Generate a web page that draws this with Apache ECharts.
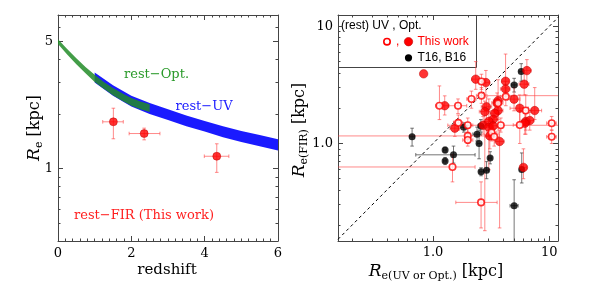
<!DOCTYPE html>
<html><head><meta charset="utf-8">
<script src="https://cdn.jsdelivr.net/npm/echarts@6/dist/echarts.min.js"></script>
<style>html,body{margin:0;padding:0;background:#fff}#c{width:598px;height:288px}</style>
</head><body><div id="c"></div>
<script>
// ---------- LEFT PANEL DATA ----------
const optZ  = [0, 0.25, 0.5, 0.75, 1, 1.25, 1.5, 1.75, 2, 2.25, 2.5];
const optHi = [5.15, 4.55, 4.05, 3.62, 3.28, 3.00, 2.78, 2.60, 2.45, 2.34, 2.26];
const optLo = [4.85, 4.25, 3.75, 3.35, 3.00, 2.75, 2.53, 2.36, 2.22, 2.12, 2.05];
const uvZ   = [1, 1.5, 2, 2.5, 3, 3.5, 4, 4.5, 5, 5.5, 6];
const uvHi  = [3.38, 2.88, 2.52, 2.30, 2.12, 1.96, 1.83, 1.71, 1.61, 1.53, 1.45];
const uvLo  = [2.98, 2.52, 2.20, 2.00, 1.85, 1.71, 1.60, 1.49, 1.40, 1.33, 1.26];
const firZ    = [1.51, 2.35, 4.33];
const firRe   = [1.81, 1.56, 1.17];
const firZLo  = [1.22, 1.94, 3.99];
const firZHi  = [1.78, 2.78, 4.66];
const firReLo = [1.46, 1.44, 0.954];
const firReHi = [2.15, 1.67, 1.37];
const leftXTicks = [0, 2, 4, 6];
const leftYLabels = [1, 5];
const leftYMinor = [0.4, 0.5, 0.6, 0.7, 0.8, 0.9, 2, 3, 4, 6, 7];

// ---------- RIGHT PANEL DATA ----------
// This work, filled symbols
const wfX   = [0.83, 2.33, 2.85, 1.26, 4.21, 4.21, 6.42, 6.09, 4.98, 3.63, 3.56, 2.88, 5.58, 7.5, 2.79, 3.63, 3.40, 3.29, 6.28, 6.8, 6.17, 1.54, 2.70, 3.02, 3.02, 3.29, 3.08, 3.74, 6.0];
const wfY   = [3.93, 3.54, 3.31, 2.10, 3.40, 2.92, 4.19, 3.21, 2.39, 2.32, 2.22, 2.06, 2.00, 1.91, 1.87, 1.91, 1.81, 1.61, 1.54, 1.57, 1.49, 1.35, 1.43, 1.54, 1.375, 1.41, 1.16, 1.04, 0.625];
const wfXLo = [0.83, 2.15, 2.65, 1.15, 3.9, 3.8, 5.8, 5.5, 4.4, 3.3, 3.2, 2.6, 4.6, 6.5, 2.5, 3.3, 3.1, 3.0, 5.7, 6.2, 5.5, 1.4, 2.45, 2.75, 2.75, 3.0, 2.8, 3.4, 5.6];
const wfXHi = [0.83, 2.52, 3.05, 1.37, 4.5, 4.6, 7.0, 6.7, 5.6, 4.0, 3.9, 3.2, 6.6, 8.6, 3.1, 4.0, 3.7, 3.6, 6.9, 7.4, 6.8, 1.7, 2.95, 3.3, 3.3, 3.6, 3.4, 4.1, 6.4];
const wfYLo = [3.93, 2.9, 2.6, 1.75, 2.8, 2.5, 3.2, 2.6, 1.9, 1.2, 1.8, 1.6, 1.5, 1.6, 0.18, 1.6, 1.5, 1.3, 1.3, 1.3, 1.2, 1.15, 1.2, 0.6, 1.15, 1.2, 0.9, 0.19, 0.5];
const wfYHi = [3.93, 5.0, 4.2, 2.55, 5.8, 3.4, 5.2, 4.0, 3.0, 3.5, 2.7, 2.5, 2.6, 3.0, 2.3, 2.2, 2.1, 1.9, 1.8, 1.85, 1.8, 1.55, 1.7, 2.4, 1.6, 1.65, 1.4, 1.3, 0.9];
// This work, open symbols
const woX   = [2.61, 2.61, 2.14, 4.23, 1.135, 1.64, 6.28, 3.63, 1.65, 10.5, 5.58, 1.99, 3.83, 3.19, 3.36, 1.99, 1.99, 10.5, 1.47, 2.59];
const woY   = [3.38, 2.56, 2.40, 2.51, 2.10, 2.10, 1.91, 2.20, 1.50, 1.49, 1.44, 1.43, 1.43, 1.24, 1.14, 1.16, 1.07, 1.14, 0.63, 0.314];
const woXLo = [2.45, 2.36, 1.95, 3.8, 1.05, 1.35, 5.6, 3.3, 1.5, 9.5, 4.9, 1.8, 1.34, 2.9, 3.05, 0.1, 1.8, 9.5, 0.1, 1.57];
const woXHi = [2.8, 14, 2.35, 4.7, 1.22, 1.95, 7.0, 4.0, 1.8, 11.5, 6.3, 2.2, 14, 3.5, 3.7, 2.9, 2.2, 11.5, 2.3, 3.56];
const woYLo = [2.9, 2.2, 2.0, 2.1, 1.6, 1.8, 1.2, 1.9, 1.3, 1.3, 1.0, 1.25, 1.25, 1.05, 0.95, 1.0, 0.95, 1.0, 0.47, 0.19];
const woYHi = [3.9, 3.0, 2.8, 3.0, 3.1, 2.4, 2.6, 2.5, 1.75, 1.7, 1.9, 1.65, 1.65, 1.45, 1.35, 1.35, 1.2, 1.3, 0.8, 0.47];
// T16, B16
const tbX   = [0.66, 1.27, 1.27, 1.50, 1.84, 2.39, 2.49, 2.58, 2.59, 2.89, 3.10, 4.99, 4.99, 5.74, 5.80];
const tbY   = [1.14, 0.88, 0.71, 0.80, 1.375, 1.20, 1.00, 1.41, 0.574, 0.59, 0.75, 3.16, 0.294, 4.11, 0.60];
const tbXLo = [0.63, 1.23, 1.23, 0.71, 1.72, 2.2, 2.4, 2.45, 2.5, 2.8, 3.0, 4.7, 4.6, 5.5, 5.6];
const tbXHi = [0.69, 1.31, 1.31, 2.30, 1.96, 2.6, 2.6, 2.72, 2.7, 3.0, 3.2, 5.3, 5.4, 6.0, 6.0];
const tbYLo = [0.95, 0.83, 0.66, 0.68, 1.25, 1.05, 0.74, 1.25, 0.53, 0.5, 0.67, 2.75, 0.1, 3.4, 0.46];
const tbYHi = [1.35, 0.93, 0.76, 0.95, 1.5, 1.38, 1.3, 1.6, 0.62, 0.7, 0.85, 3.6, 0.49, 4.8, 0.83];
const oneToOne = [0.1, 20];
const logLabels = [1, 10];
const logMinor = [0.2, 0.3, 0.4, 0.5, 0.6, 0.7, 0.8, 0.9, 2, 3, 4, 5, 6, 7, 8, 9];

// ---------- BUILD ----------
const SERIF = 'DejaVu Serif';
const SANS = 'Liberation Sans';
const FRAME = '#444';
const chart = echarts.init(document.getElementById('c'), null, {renderer: 'canvas'});

function zip(...arrs) { return arrs[0].map((_, i) => arrs.map(a => a[i])); }

function logAxis(kind, grid, pos, min, max, vals, major, labels, fmt) {
  return {
    type: 'log', logBase: 10, gridIndex: grid, position: pos, min: min, max: max,
    axisLine: {show: major, onZero: false, lineStyle: {color: FRAME, width: 1}},
    axisTick: {show: true, inside: true, length: major ? 5 : 2.5, customValues: vals, lineStyle: {color: FRAME}},
    axisLabel: labels ? {show: true, customValues: labels, formatter: fmt, fontFamily: SERIF, fontSize: 13, color: '#000', margin: 5} : {show: false},
    splitLine: {show: false}, minorTick: {show: false}
  };
}
function linAxis(grid, pos, labels) {
  return {
    type: 'value', gridIndex: grid, position: pos, min: 0, max: 6, interval: 2,
    axisLine: {show: true, onZero: false, lineStyle: {color: FRAME, width: 1}},
    axisTick: {show: true, inside: true, length: 5, lineStyle: {color: FRAME}},
    minorTick: {show: true, splitNumber: 10, length: 2.5, lineStyle: {color: FRAME}},
    axisLabel: labels ? {show: true, fontFamily: SERIF, fontSize: 13, color: '#000', margin: 6} : {show: false},
    splitLine: {show: false}
  };
}
const fmtL = v => String(Math.round(v));
const fmtR = v => { const r = Math.round(v); return r === 1 ? '1.0' : String(r); };
const RX = [0.152, 11.9], RY = [0.147, 12.5], LY = [0.4, 7];

const xAxis = [
  linAxis(0, 'bottom', true),
  linAxis(0, 'top', false),
  logAxis('x', 1, 'bottom', RX[0], RX[1], logLabels, true, logLabels, fmtR),
  logAxis('x', 1, 'bottom', RX[0], RX[1], logMinor, false, null),
  logAxis('x', 1, 'top', RX[0], RX[1], logLabels, true, null),
  logAxis('x', 1, 'top', RX[0], RX[1], logMinor, false, null)
];
const yAxis = [
  logAxis('y', 0, 'left', LY[0], LY[1], leftYLabels, true, leftYLabels, fmtL),
  logAxis('y', 0, 'left', LY[0], LY[1], leftYMinor, false, null),
  logAxis('y', 0, 'right', LY[0], LY[1], leftYLabels, true, null),
  logAxis('y', 0, 'right', LY[0], LY[1], leftYMinor, false, null),
  logAxis('y', 1, 'left', RY[0], RY[1], logLabels, true, logLabels, fmtR),
  logAxis('y', 1, 'left', RY[0], RY[1], logMinor, false, null),
  logAxis('y', 1, 'right', RY[0], RY[1], logLabels, true, null),
  logAxis('y', 1, 'right', RY[0], RY[1], logMinor, false, null)
];

function band(xs, lo, hi, color, z) {
  return {
    type: 'custom', xAxisIndex: 0, yAxisIndex: 0, z: z, silent: true,
    data: [[xs[0], lo[0]]],
    renderItem(params, api) {
      const pts = [];
      for (let i = 0; i < xs.length; i++) pts.push(api.coord([xs[i], hi[i]]));
      for (let i = xs.length - 1; i >= 0; i--) pts.push(api.coord([xs[i], lo[i]]));
      return {type: 'polygon', shape: {points: pts}, style: {fill: color, stroke: null}};
    }
  };
}

function errBars(data, xi, yi, color, z) {
  return {
    type: 'custom', xAxisIndex: xi, yAxisIndex: yi, z: z, silent: true,
    data: data,
    renderItem(params, api) {
      const cs = params.coordSys;
      const x0 = cs.x, x1 = cs.x + cs.width, y0 = cs.y, y1 = cs.y + cs.height;
      const x = api.value(0), y = api.value(1);
      const l = api.coord([api.value(2), y]), r = api.coord([api.value(3), y]);
      const b = api.coord([x, api.value(4)]), t = api.coord([x, api.value(5)]);
      const cl = v => Math.max(x0, Math.min(x1, v));
      const ct = v => Math.max(y0, Math.min(y1, v));
      const st = {stroke: color, lineWidth: 1};
      const ch = [];
      const cap = 1.8;
      if (r[0] - l[0] > 0.5) {
        const lx = cl(l[0]), rx = cl(r[0]);
        ch.push({type: 'line', shape: {x1: lx, y1: l[1], x2: rx, y2: r[1]}, style: st});
        if (lx === l[0]) ch.push({type: 'line', shape: {x1: lx, y1: l[1] - cap, x2: lx, y2: l[1] + cap}, style: st});
        if (rx === r[0]) ch.push({type: 'line', shape: {x1: rx, y1: r[1] - cap, x2: rx, y2: r[1] + cap}, style: st});
      }
      if (b[1] - t[1] > 0.5) {
        const by = ct(b[1]), ty = ct(t[1]);
        ch.push({type: 'line', shape: {x1: b[0], y1: by, x2: t[0], y2: ty}, style: st});
        if (by === b[1]) ch.push({type: 'line', shape: {x1: b[0] - cap, y1: by, x2: b[0] + cap, y2: by}, style: st});
        if (ty === t[1]) ch.push({type: 'line', shape: {x1: t[0] - cap, y1: ty, x2: t[0] + cap, y2: ty}, style: st});
      }
      return {type: 'group', children: ch};
    }
  };
}

const series = [
  band(uvZ, uvLo, uvHi, '#1a1aff', 2),
  band(optZ, optLo, optHi, 'rgba(34,140,40,0.85)', 3),
  errBars(zip(firZ, firRe, firZLo, firZHi, firReLo, firReHi), 0, 0, 'rgba(255,60,60,0.6)', 4),
  {type: 'scatter', xAxisIndex: 0, yAxisIndex: 0, z: 5, symbol: 'circle', symbolSize: 8,
   itemStyle: {color: '#f00', borderColor: '#b00', borderWidth: 0.6}, data: zip(firZ, firRe)},
  {type: 'line', xAxisIndex: 2, yAxisIndex: 4, z: 2, symbol: 'none', silent: true,
   lineStyle: {color: '#000', width: 1, type: [3, 3]}, data: zip(oneToOne, oneToOne)},
  errBars(zip(tbX, tbY, tbXLo, tbXHi, tbYLo, tbYHi), 2, 4, 'rgba(60,60,60,0.7)', 3),
  errBars(zip(wfX, wfY, wfXLo, wfXHi, wfYLo, wfYHi), 2, 4, 'rgba(255,60,60,0.6)', 3),
  errBars(zip(woX, woY, woXLo, woXHi, woYLo, woYHi), 2, 4, 'rgba(255,60,60,0.6)', 3),
  {type: 'scatter', xAxisIndex: 2, yAxisIndex: 4, z: 5, symbol: 'circle', symbolSize: 7,
   itemStyle: {color: '#000'}, data: zip(tbX, tbY)},
  {type: 'scatter', xAxisIndex: 2, yAxisIndex: 4, z: 6, symbol: 'circle', symbolSize: 8.5,
   itemStyle: {color: '#f00', borderColor: '#b00', borderWidth: 0.6}, data: zip(wfX, wfY)},
  {type: 'scatter', xAxisIndex: 2, yAxisIndex: 4, z: 6, symbol: 'circle', symbolSize: 6.5,
   itemStyle: {color: '#fff', borderColor: '#f00', borderWidth: 1.6}, data: zip(woX, woY)}
];

const titleRich = {
  i: {fontFamily: SERIF, fontStyle: 'italic', fontSize: 17, lineHeight: 20, verticalAlign: 'middle'},
  s: {fontFamily: SERIF, fontSize: 11, lineHeight: 20, verticalAlign: 'bottom'},
  n: {fontFamily: SERIF, fontSize: 16, lineHeight: 20, verticalAlign: 'middle'}
};
const graphic = [
  {type: 'text', x: 167, y: 270, style: {text: 'redshift', fontFamily: SERIF, fontSize: 15, fill: '#000', align: 'center', verticalAlign: 'middle'}},
  {type: 'text', x: 35, y: 128, rotation: Math.PI / 2, style: {text: '{i|R}{s|e}{n| [kpc]}', rich: titleRich, fill: '#000', align: 'center', verticalAlign: 'middle'}},
  {type: 'text', x: 300, y: 130, rotation: Math.PI / 2, style: {text: '{i|R}{s|e(FIR)}{n| [kpc]}', rich: titleRich, fill: '#000', align: 'center', verticalAlign: 'middle'}},
  {type: 'text', x: 436, y: 272, style: {text: '{i|R}{s|e(UV or Opt.)}{n| [kpc]}', rich: titleRich, fill: '#000', align: 'center', verticalAlign: 'middle'}},
  {type: 'text', x: 156.5, y: 75, style: {text: 'rest\u2212Opt.', fontFamily: SERIF, fontSize: 13, fill: '#2a9a2a', align: 'center', verticalAlign: 'middle'}},
  {type: 'text', x: 204, y: 107, style: {text: 'rest\u2212UV', fontFamily: SERIF, fontSize: 13, fill: '#2020ff', align: 'center', verticalAlign: 'middle'}},
  {type: 'text', x: 144, y: 216, style: {text: 'rest\u2212FIR (This work)', fontFamily: SERIF, fontSize: 13, fill: '#ff2020', align: 'center', verticalAlign: 'middle'}},
  // legend box
  {type: 'line', shape: {x1: 476.5, y1: 15, x2: 476.5, y2: 67.5}, style: {stroke: FRAME, lineWidth: 1}},
  {type: 'line', shape: {x1: 338, y1: 67.5, x2: 476.5, y2: 67.5}, style: {stroke: FRAME, lineWidth: 1}},
  {type: 'text', x: 341, y: 26, style: {text: '(rest) UV , Opt.', fontFamily: SANS, fontSize: 12, fill: '#000', align: 'left', verticalAlign: 'middle'}},
  {type: 'circle', shape: {cx: 387, cy: 41.7, r: 3.2}, style: {fill: '#fff', stroke: '#f00', lineWidth: 1.6}},
  {type: 'text', x: 396, y: 41.7, style: {text: ',', fontFamily: SANS, fontSize: 12, fill: '#f00', align: 'left', verticalAlign: 'middle'}},
  {type: 'circle', shape: {cx: 408.5, cy: 41.7, r: 4.2}, style: {fill: '#f00', stroke: '#b00', lineWidth: 0.6}},
  {type: 'text', x: 417.5, y: 41.7, style: {text: 'This work', fontFamily: SANS, fontSize: 12, fill: '#f00', align: 'left', verticalAlign: 'middle'}},
  {type: 'circle', shape: {cx: 408.5, cy: 57.8, r: 3.6}, style: {fill: '#000'}},
  {type: 'text', x: 417.5, y: 57.8, style: {text: 'T16, B16', fontFamily: SANS, fontSize: 12, fill: '#000', align: 'left', verticalAlign: 'middle'}}
];

chart.setOption({
  animation: false,
  grid: [
    {left: 58, top: 15, width: 220, height: 226, containLabel: false},
    {left: 338, top: 15, width: 220, height: 226, containLabel: false}
  ],
  xAxis: xAxis, yAxis: yAxis, series: series, graphic: graphic
});
</script></body></html>
